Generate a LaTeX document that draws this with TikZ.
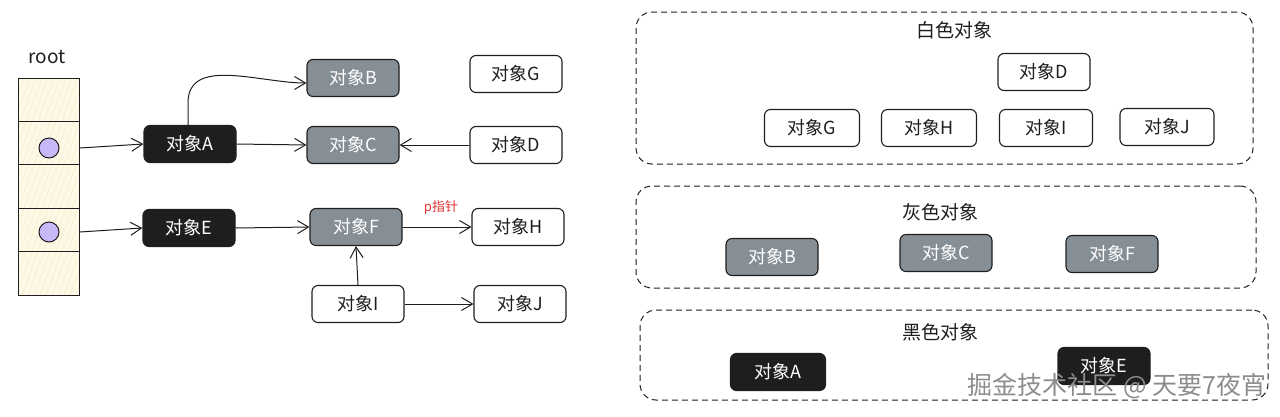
\documentclass[tikz,border=0pt]{standalone}
\usepackage{fontspec}
\setmainfont{Noto Sans CJK SC}
\usetikzlibrary{arrows.meta}
\definecolor{ink}{HTML}{1E1E1E}
\definecolor{objgray}{HTML}{868E96}
\definecolor{rootfill}{HTML}{FDF9E6}
\definecolor{hatch}{HTML}{F2E9C4}
\definecolor{dot}{HTML}{C9B8F8}
\definecolor{redlab}{HTML}{E03131}
\definecolor{wmark}{HTML}{8C8C8C}
\begin{document}
\begin{tikzpicture}[x=1pt,y=-1pt,
  obj/.style={draw=ink, line width=1.1pt, rounded corners=6pt, minimum width=92pt, minimum height=37pt, inner sep=0pt, font=\fontsize{18}{20}\selectfont},
  wobj/.style={obj, fill=white, text=ink},
  gobj/.style={obj, fill=objgray, text=white},
  bobj/.style={obj, fill=ink, text=white},
  arr/.style={draw=ink, line width=1pt, -{Straight Barb[length=11pt,width=13pt,line width=1pt]}},
  panel/.style={draw=ink, line width=1pt, dash pattern=on 6pt off 4pt, rounded corners=16pt, inner sep=0pt},
  ptitle/.style={text=ink, font=\fontsize{19}{21}\selectfont},
  cell/.style={draw=ink, line width=1pt, minimum width=61pt, minimum height=43.4pt, inner sep=0pt},
  dotn/.style={circle, draw=ink, line width=1pt, fill=dot, minimum size=20pt, inner sep=0pt}
]
\useasboundingbox (0,0) rectangle (1280,416);
% root stack
\fill[rootfill] (18,78) rectangle (79,295);
\begin{scope}
  \clip (18,78) rectangle (79,295);
  \foreach \k in {0,6,...,300} {
    \draw[hatch, line width=0.4pt] (18+\k-80,295) -- (18+\k,78);
  }
\end{scope}
\foreach \i in {1,...,5} {
  \node[cell] (r\i) at (48.5,{78+43.4*(\i-0.5)}) {};
}
\node[text=ink, font=\fontsize{19}{21}\selectfont] (root) at (47,57) {root};
\node[dotn] (c1) at (49,148) {};
\node[dotn] (c2) at (49,232) {};

% left graph objects
\node[bobj] (A) at (190,144) {对象A};
\node[gobj] (B) at (353,78) {对象B};
\node[gobj] (C) at (353,145) {对象C};
\node[wobj] (D) at (516,145) {对象D};
\node[wobj] (G) at (516,74) {对象G};
\node[bobj] (E) at (189,228) {对象E};
\node[gobj] (F) at (356,227) {对象F};
\node[wobj] (H) at (518,227) {对象H};
\node[wobj] (I) at (358,304) {对象I};
\node[wobj] (J) at (520,304) {对象J};

\draw[arr] (c1 -| r2.east) -- (A.west);
\draw[arr] (c2 -| r4.east) -- (E.west);
\draw[arr] ([xshift=-2pt]A.north) -- ++(0,-22) to[out=90,in=180] ([yshift=-5pt]B.west);
\draw[arr] (A.east) -- (C.west);
\draw[arr] (D.west) -- (C.east);
\draw[arr] (E.east) -- (F.west);
\draw[arr] (F.east) -- (H.west);
\draw[arr] (I.north) -- (F.south);
\draw[arr] (I.east) -- (J.west);
\node[text=redlab, font=\fontsize{13}{15}\selectfont] (plab) at (441,208) {p指针};

% right panels
\node[panel, minimum width=617pt, minimum height=152pt] (pw) at (944.5,88) {};
\node[ptitle] (tw) at (954,30) {白色对象};
\node[wobj] (D2) at (1044,72) {对象D};
\node[wobj, minimum width=95pt] (G2) at (812,128) {对象G};
\node[wobj, minimum width=95pt] (H2) at (929,128) {对象H};
\node[wobj, minimum width=93pt] (I2) at (1046,128) {对象I};
\node[wobj, minimum width=94pt] (J2) at (1167,127) {对象J};

\node[panel, minimum width=620pt, minimum height=102pt] (pg) at (946,237) {};
\node[ptitle] (tg) at (940,212) {灰色对象};
\node[gobj] (B2) at (772,257) {对象B};
\node[gobj] (C2) at (946,253) {对象C};
\node[gobj] (F2) at (1112,254) {对象F};

\node[panel, minimum width=628pt, minimum height=90pt] (pb) at (954,355) {};
\node[ptitle] (tb) at (940,332) {黑色对象};
\node[bobj, minimum width=95pt] (A2) at (778,372) {对象A};
\node[bobj] (E2) at (1104,366) {对象E};

\node[text=wmark, font=\fontsize{25}{27}\selectfont, inner sep=0pt] (wm) at (1117,386) {掘金技术社区 @ 天要7夜宵};
\end{tikzpicture}
\end{document}
